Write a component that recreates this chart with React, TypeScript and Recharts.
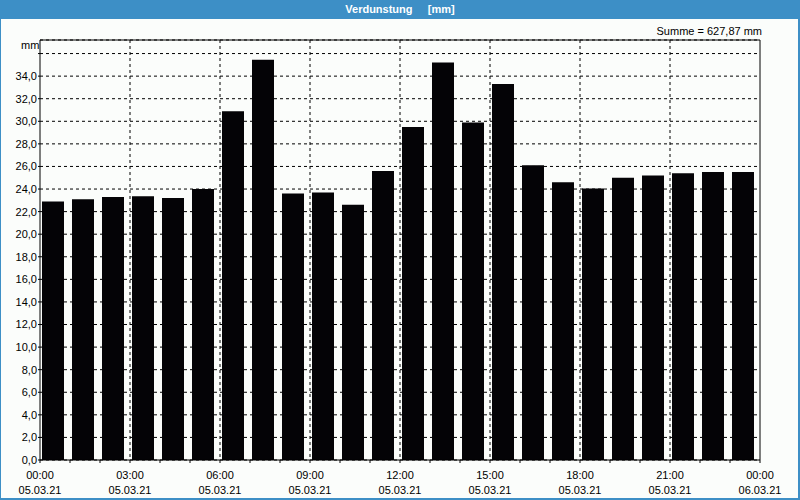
import React from "react";
import {
  BarChart,
  Bar,
  XAxis,
  YAxis,
  CartesianGrid,
  Rectangle,
} from "recharts";

// hourly evaporation values 05.03.21 00:00 .. 23:00 (mm)
const hours = [
  0, 1, 2, 3, 4, 5, 6, 7, 8, 9, 10, 11, 12, 13, 14, 15, 16, 17, 18, 19, 20, 21,
  22, 23,
];
const values = [
  22.9, 23.1, 23.3, 23.35, 23.2, 24.0, 30.9, 35.45, 23.6, 23.7, 22.6, 25.6,
  29.5, 35.2, 29.9, 33.3, 26.1, 24.6, 24.05, 25.0, 25.2, 25.4, 25.5, 25.5,
];

const tickHours = [0, 3, 6, 9, 12, 15, 18, 21, 24];
const tickTimes = [
  "00:00",
  "03:00",
  "06:00",
  "09:00",
  "12:00",
  "15:00",
  "18:00",
  "21:00",
  "00:00",
];
const tickDates = [
  "05.03.21",
  "05.03.21",
  "05.03.21",
  "05.03.21",
  "05.03.21",
  "05.03.21",
  "05.03.21",
  "05.03.21",
  "06.03.21",
];
const minorTicks = [
  0, 1, 2, 3, 4, 5, 6, 7, 8, 9, 10, 11, 12, 13, 14, 15, 16, 17, 18, 19, 20, 21,
  22, 23, 24,
];
const yTicks = [
  0, 2, 4, 6, 8, 10, 12, 14, 16, 18, 20, 22, 24, 26, 28, 30, 32, 34, 36,
];

// each bar covers one hour, so it is placed in the middle of its interval
const data = hours.map((h, i) => ({ hour: h, mid: h + 0.5, value: values[i] }));

const FONT = "'Liberation Sans', Arial, sans-serif";
const BLUE = "#3d8fc6";

const TimeTick = (props: any) => {
  const { x, y, payload } = props;
  const i = tickHours.indexOf(payload.value);
  if (i < 0) return null;
  return (
    <g>
      <text x={x} y={y + 16} textAnchor="middle" fontSize={11} fill="#000">
        {tickTimes[i]}
      </text>
      <text x={x} y={y + 31} textAnchor="middle" fontSize={11} fill="#000">
        {tickDates[i]}
      </text>
    </g>
  );
};

// bars sit slightly left inside each hour slot
const HourBar = (props: any) => (
  <Rectangle {...props} x={props.x - 2} stroke="none" />
);

const App = () => {
  return (
    <div
      style={{
        position: "absolute",
        left: 0,
        top: 0,
        width: 800,
        height: 500,
        background: "#fbfdfb",
        fontFamily: FONT,
        overflow: "hidden",
      }}
    >
      <div
        style={{
          position: "absolute",
          left: 0,
          top: 0,
          width: 800,
          height: 19,
          background: BLUE,
          color: "#fff",
          fontWeight: "bold",
          fontSize: 11,
          lineHeight: "19px",
          textAlign: "center",
          whiteSpace: "pre",
        }}
      >
        {"Verdunstung     [mm]"}
      </div>
      <div style={{ position: "absolute", left: 0, top: 0, width: 1, height: 500, background: BLUE }} />
      <div style={{ position: "absolute", right: 0, top: 0, width: 2, height: 500, background: BLUE }} />
      <div style={{ position: "absolute", left: 0, bottom: 0, width: 800, height: 2, background: BLUE }} />
      <div
        style={{
          position: "absolute",
          right: 38,
          top: 25,
          fontSize: 11,
          color: "#000",
          whiteSpace: "pre",
        }}
      >
        Summe = 627,87 mm
      </div>
      <div
        style={{
          position: "absolute",
          left: 21,
          top: 39,
          fontSize: 11,
          color: "#000",
        }}
      >
        mm
      </div>
      <div style={{ position: "absolute", left: 0, top: 0 }}>
        <BarChart
          width={800}
          height={500}
          data={data}
          margin={{ top: 0, right: 0, bottom: 0, left: 0 }}
          barCategoryGap={4}
          style={{ fontFamily: FONT }}
        >
          <CartesianGrid
            stroke="#000"
            strokeDasharray="3 3"
            verticalValues={[3, 6, 9, 12, 15, 18, 21]}
          />
          <XAxis
            dataKey="mid"
            type="number"
            domain={[0, 24]}
            ticks={minorTicks}
            interval={0}
            allowDataOverflow
            height={40}
            axisLine={{ stroke: "#000" }}
            tickLine={{ stroke: "#000" }}
            tickSize={3}
            tickMargin={0}
            tick={<TimeTick />}
          />
          <XAxis
            xAxisId="top"
            orientation="top"
            dataKey="mid"
            type="number"
            domain={[0, 24]}
            allowDataOverflow
            height={40}
            tick={false}
            tickLine={false}
            axisLine={{ stroke: "#000" }}
          />
          <YAxis
            domain={[0, 37.2]}
            ticks={yTicks}
            interval={0}
            allowDataOverflow
            width={40}
            axisLine={{ stroke: "#000" }}
            tickLine={{ stroke: "#000" }}
            tickSize={2}
            tickMargin={1}
            tick={{ fontSize: 11, fill: "#000" }}
            tickFormatter={(v: number) =>
              v === 36 ? "" : v.toFixed(1).replace(".", ",")
            }
          />
          <YAxis
            yAxisId="right"
            orientation="right"
            domain={[0, 37.2]}
            width={40}
            tick={false}
            tickLine={false}
            axisLine={{ stroke: "#000" }}
          />
          <Bar
            dataKey="value"
            fill="#040306"
            shape={<HourBar />}
            isAnimationActive={false}
          />
        </BarChart>
      </div>
    </div>
  );
};

export default App;
